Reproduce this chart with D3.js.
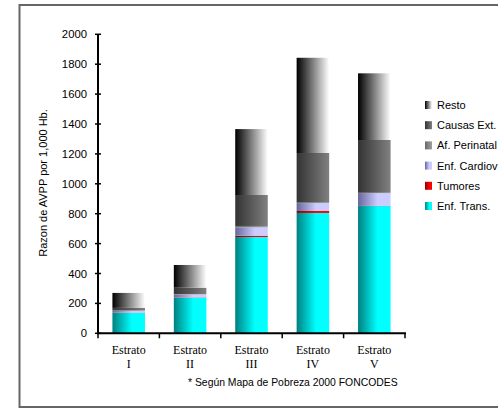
<!DOCTYPE html>
<html><head><meta charset="utf-8">
<script src="https://cdn.jsdelivr.net/npm/d3@7"></script>
<style>body{margin:0;background:#fff}svg{display:block}</style>
</head><body>
<script>
const categories = ["I","II","III","IV","V"];
const enfTrans   = [136, 238, 644, 805, 851];
const tumores    = [2, 2, 9, 13, 1];
const enfCardiov = [12, 20, 56, 53, 86];
const afPerinatal= [3, 3, 9, 3, 2];
const causasExt  = [17, 42, 207, 332, 353];
const resto      = [100, 152, 441, 637, 446];
const yTicks = [0,200,400,600,800,1000,1200,1400,1600,1800,2000];

const keys = ["enfTrans","tumores","enfCardiov","afPerinatal","causasExt","resto"];
const labels = {enfTrans:"Enf. Trans.",tumores:"Tumores",enfCardiov:"Enf. Cardiov",afPerinatal:"Af. Perinatal",causasExt:"Causas Ext.",resto:"Resto"};
const grads = {
  enfTrans:[["0%","#008080"],["60%","#00ffff"],["100%","#00ffff"]],
  tumores:[["0%","#900000"],["60%","#ff0000"],["100%","#ff0000"]],
  enfCardiov:[["0%","#66669a"],["60%","#ccccff"],["100%","#ccccff"]],
  afPerinatal:[["0%","#6a6a6a"],["100%","#a0a0a0"]],
  causasExt:[["0%","#333333"],["100%","#808080"]],
  resto:[["0%","#000000"],["100%","#ffffff"]]
};
const table = categories.map((c,i)=>({cat:c,enfTrans:enfTrans[i],tumores:tumores[i],enfCardiov:enfCardiov[i],afPerinatal:afPerinatal[i],causasExt:causasExt[i],resto:resto[i]}));

const W=498,H=408;
const svg=d3.select("body").append("svg").attr("width",W).attr("height",H);
const defs=svg.append("defs");
keys.forEach(k=>{
  const g=defs.append("linearGradient").attr("id","g_"+k).attr("x1","0").attr("x2","1").attr("y1","0").attr("y2","0");
  grads[k].forEach(s=>g.append("stop").attr("offset",s[0]).attr("stop-color",s[1]));
});

svg.append("rect").attr("x",19.5).attr("y",5).attr("width",520).attr("height",402)
  .attr("fill","none").attr("stroke","#666").attr("stroke-width",2);

const x=d3.scaleBand().domain(categories).range([98,405]).paddingInner(0.47).paddingOuter(0.235);
const y=d3.scaleLinear().domain([0,2000]).range([333.3,34.3]);

const series=d3.stack().keys(keys)(table);
svg.append("g").selectAll("g").data(series).join("g")
  .attr("fill",d=>"url(#g_"+d.key+")")
  .selectAll("rect").data(d=>d).join("rect")
  .attr("x",d=>x(d.data.cat)).attr("width",x.bandwidth())
  .attr("y",d=>y(d[1])).attr("height",d=>y(d[0])-y(d[1]));

// y axis
const ya=svg.append("g");
ya.append("line").attr("x1",98).attr("x2",98).attr("y1",y(2000)).attr("y2",y(0)).attr("stroke","#000").attr("stroke-width",2);
ya.selectAll("line.t").data(yTicks).join("line").attr("class","t")
  .attr("x1",95).attr("x2",101).attr("y1",d=>y(d)).attr("y2",d=>y(d)).attr("stroke","#000").attr("stroke-width",1.5);
ya.selectAll("text").data(yTicks).join("text")
  .attr("x",87).attr("y",d=>y(d)+4).attr("text-anchor","end")
  .attr("font-family","Liberation Sans, Arial, sans-serif").attr("font-size",11.3).text(d=>d);

// x axis
const xa=svg.append("g");
xa.append("line").attr("x1",97).attr("x2",406).attr("y1",y(0)).attr("y2",y(0)).attr("stroke","#000").attr("stroke-width",2);
const bounds=categories.map(c=>x(c)-x.step()*x.paddingInner()/2).concat([405]);
bounds[0]=98;
xa.selectAll("line.t").data(bounds).join("line").attr("class","t")
  .attr("x1",d=>d).attr("x2",d=>d).attr("y1",y(0)).attr("y2",y(0)+5).attr("stroke","#000").attr("stroke-width",1.5);
const xl=xa.selectAll("text").data(categories).join("text")
  .attr("text-anchor","middle").attr("font-family","Liberation Serif, Times New Roman, serif").attr("font-size",12);
xl.append("tspan").attr("x",d=>x(d)+x.bandwidth()/2).attr("y",354).text("Estrato");
xl.append("tspan").attr("x",d=>x(d)+x.bandwidth()/2).attr("y",368).text(d=>d);

svg.append("text").attr("transform","translate(47,183) rotate(-90)").attr("text-anchor","middle")
  .attr("font-family","Liberation Sans, Arial, sans-serif").attr("font-size",11).text("Razon de AVPP por 1,000 Hb.");

svg.append("text").attr("x",188).attr("y",386).attr("font-family","Liberation Sans, Arial, sans-serif").attr("font-size",10.4)
  .text("* Según Mapa de Pobreza 2000 FONCODES");

// legend
const legKeys=keys.slice().reverse();
const lg=svg.append("g").selectAll("g").data(legKeys).join("g").attr("transform",(d,i)=>`translate(425,${105+i*20.2})`);
lg.append("rect").attr("x",0).attr("y",-4).attr("width",7).attr("height",8).attr("fill",d=>"url(#g_"+d+")");
lg.append("text").attr("x",12).attr("y",4).attr("font-family","Liberation Sans, Arial, sans-serif").attr("font-size",11).text(d=>labels[d]);
</script>
</body></html>
